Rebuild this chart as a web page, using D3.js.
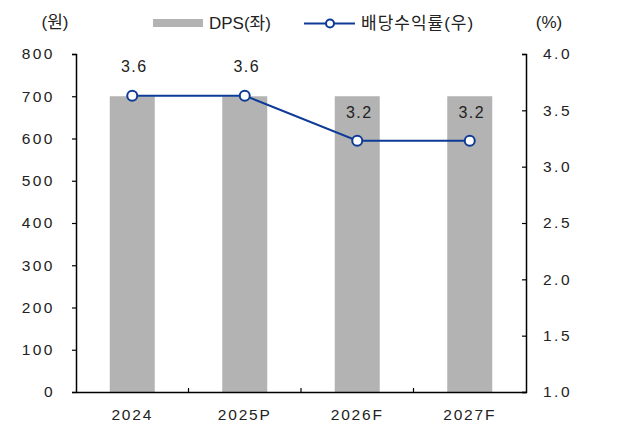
<!DOCTYPE html>
<html>
<head>
<meta charset="utf-8">
<script src="https://cdn.jsdelivr.net/npm/d3@7"></script>
<style>
  body { margin: 0; background: #fff; }
  text { font-family: "Liberation Sans", Arial, "Noto Sans CJK KR", sans-serif; fill: #222; }
  .kr { font-family: "Liberation Sans", "Noto Sans CJK KR", sans-serif; }
</style>
</head>
<body>
<div class="chart"></div>
<script>
// chart data
var years = ["2024", "2025P", "2026F", "2027F"];
var dps = [700, 700, 700, 700];
var yieldPct = [3.63, 3.63, 3.23, 3.23];
var leftTicks = [0, 100, 200, 300, 400, 500, 600, 700, 800];
var rightTicks = [1.0, 1.5, 2.0, 2.5, 3.0, 3.5, 4.0];

var svgWidth = 622;
var svgHeight = 426;
var margin = { top: 54, right: 96, bottom: 34, left: 76 };
var width = svgWidth - margin.left - margin.right;
var height = svgHeight - margin.top - margin.bottom;

var svg = d3.select(".chart").append("svg")
  .attr("width", svgWidth)
  .attr("height", svgHeight);

var chart = svg.append("g")
  .attr("transform", "translate(" + margin.left + "," + margin.top + ")");

// scales
var x = d3.scaleBand().domain(years).range([0, width]).padding(0);
var yLeft = d3.scaleLinear().domain([0, 800]).range([height, 0]);
var yRight = d3.scaleLinear().domain([1, 4]).range([height, 0]);

var barW = x.bandwidth() * 0.4;
var lineColor = "#0e3b96";

// bars
chart.selectAll(".bar")
  .data(dps)
  .enter().append("rect")
  .attr("class", "bar")
  .attr("x", function(d, i) { return x(years[i]) + (x.bandwidth() - barW) / 2; })
  .attr("y", function(d) { return yLeft(d); })
  .attr("width", barW)
  .attr("height", function(d) { return height - yLeft(d); })
  .attr("fill", "#b3b3b3");

// axes
var leftAxis = d3.axisLeft(yLeft).tickValues(leftTicks).tickSize(4).tickPadding(17)
  .tickFormat(d3.format("d"));
var rightAxis = d3.axisRight(yRight).tickValues(rightTicks).tickSize(-4).tickPadding(17)
  .tickFormat(d3.format(".1f"));
var bottomAxis = d3.axisBottom(x).tickSize(0).tickPadding(17);

function styleAxis(g, size, spacing) {
  g.select(".domain").attr("stroke", "#000").attr("stroke-width", 1.5);
  g.selectAll(".tick line").attr("stroke", "#000").attr("stroke-width", 1.2);
  g.selectAll("text").attr("font-size", size).style("letter-spacing", spacing + "px")
    .attr("fill", "#222").attr("font-family", "Liberation Sans, Arial, sans-serif");
}

chart.append("g").call(leftAxis).call(styleAxis, 15.5, 2.5);
chart.append("g").attr("transform", "translate(" + width + ",0)").call(rightAxis).call(styleAxis, 15.5, 2.5);
chart.append("g").attr("transform", "translate(0," + height + ")").call(bottomAxis).call(styleAxis, 15.5, 1.8);

// category boundary ticks on the bottom axis
chart.selectAll(".cat-tick")
  .data(years.slice(1))
  .enter().append("line")
  .attr("x1", function(d) { return x(d); })
  .attr("x2", function(d) { return x(d); })
  .attr("y1", height)
  .attr("y2", height - 4)
  .attr("stroke", "#000")
  .attr("stroke-width", 1.2);

// yield line
var line = d3.line()
  .x(function(d, i) { return x(years[i]) + x.bandwidth() / 2; })
  .y(function(d) { return yRight(d); });

chart.append("path")
  .datum(yieldPct)
  .attr("d", line)
  .attr("fill", "none")
  .attr("stroke", lineColor)
  .attr("stroke-width", 2);

chart.selectAll(".dot")
  .data(yieldPct)
  .enter().append("circle")
  .attr("cx", function(d, i) { return x(years[i]) + x.bandwidth() / 2; })
  .attr("cy", function(d) { return yRight(d); })
  .attr("r", 5)
  .attr("fill", "#fff")
  .attr("stroke", lineColor)
  .attr("stroke-width", 2);

chart.selectAll(".lbl")
  .data(yieldPct)
  .enter().append("text")
  .attr("x", function(d, i) { return x(years[i]) + x.bandwidth() / 2 + 2; })
  .attr("y", function(d) { return yRight(d) - 29; })
  .attr("dy", "0.36em")
  .attr("text-anchor", "middle")
  .attr("font-size", 16)
  .style("letter-spacing", "1.4px")
  .text(function(d) { return d.toFixed(1); });

// unit labels
svg.append("text").attr("class", "kr").attr("x", 55).attr("y", 22).attr("dy", "0.36em")
  .attr("text-anchor", "middle").attr("font-size", 17).text("(원)");
svg.append("text").attr("x", 549).attr("y", 22).attr("dy", "0.36em")
  .attr("text-anchor", "middle").attr("font-size", 17).text("(%)");

// legend
var legend = svg.append("g");
legend.append("rect").attr("x", 153).attr("y", 19).attr("width", 50).attr("height", 8)
  .attr("fill", "#b3b3b3");
legend.append("text").attr("class", "kr").attr("x", 209).attr("y", 23).attr("dy", "0.36em")
  .attr("font-size", 17).text("DPS(좌)");
legend.append("line").attr("x1", 304).attr("x2", 355).attr("y1", 23.5).attr("y2", 23.5)
  .attr("stroke", lineColor).attr("stroke-width", 2);
legend.append("circle").attr("cx", 330).attr("cy", 23.5).attr("r", 4)
  .attr("fill", "#fff").attr("stroke", lineColor).attr("stroke-width", 2);
legend.append("text").attr("class", "kr").attr("x", 361).attr("y", 23).attr("dy", "0.36em")
  .attr("font-size", 17).style("letter-spacing", "1px").text("배당수익률(우)");
</script>
</body>
</html>
